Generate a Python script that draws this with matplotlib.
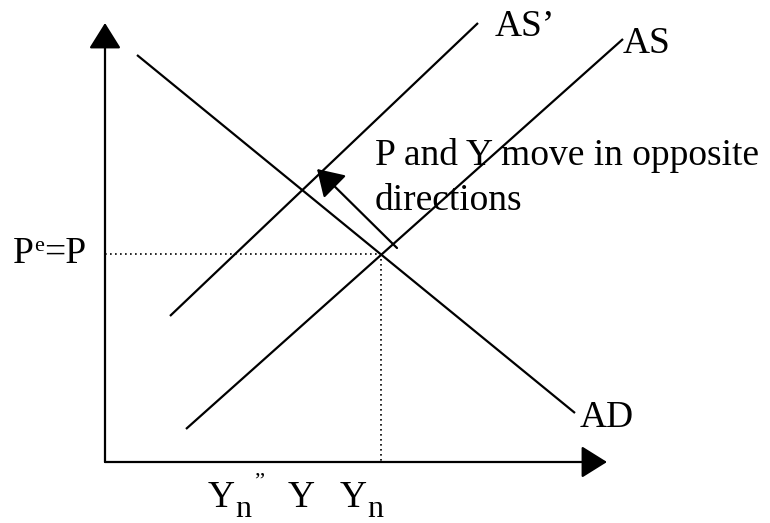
import matplotlib.pyplot as plt

plt.rcParams['font.family'] = ['Liberation Serif', 'DejaVu Serif']

# curve end points (output Y, price P), origin at the axes corner
ad_x = [32, 470]
ad_y = [407, 49]
as_x = [81, 518]
as_y = [33, 423]
as2_x = [65, 373]
as2_y = [146, 439]

# equilibrium point
y_eq = 276
p_eq = 208

# shift arrow (from, to)
shift_from = (292, 214)
shift_to = (212, 293)

x_axis_end = 502
y_axis_end = 439

fig = plt.figure(figsize=(7.7, 5.23), dpi=100)
ax = fig.add_axes([0, 0, 1, 1])
ax.set_xlim(-105, 665)
ax.set_ylim(-61, 462)
ax.axis('off')

fs = 27
lw = 1.6
head = '-|>,head_length=0.4,head_width=0.25'

# axes with arrow heads
ax.annotate('', xy=(0, y_axis_end), xytext=(0, 0),
            arrowprops=dict(arrowstyle=head, mutation_scale=40, lw=lw,
                            color='k', shrinkA=0, shrinkB=0))
ax.annotate('', xy=(x_axis_end, 0), xytext=(0, 0),
            arrowprops=dict(arrowstyle=head, mutation_scale=40, lw=lw,
                            color='k', shrinkA=0, shrinkB=0))

# curves
ax.plot(ad_x, ad_y, color='k', lw=lw, solid_capstyle='butt')
ax.plot(as_x, as_y, color='k', lw=lw, solid_capstyle='butt')
ax.plot(as2_x, as2_y, color='k', lw=lw, solid_capstyle='butt')

# dotted guides
ax.plot([0, y_eq], [p_eq, p_eq], color='k', lw=1.2, ls=(0, (1, 2)))
ax.plot([y_eq, y_eq], [p_eq, 0], color='k', lw=1.2, ls=(0, (1, 2)))

# shift arrow
ax.annotate('', xy=shift_to, xytext=shift_from,
            arrowprops=dict(arrowstyle=head, mutation_scale=40, lw=lw,
                            color='k', shrinkA=0, shrinkB=0))

# labels
ax.text(390, 426, 'AS\u2019', fontsize=fs, va='baseline', ha='left')
ax.text(518, 409, 'AS', fontsize=fs, va='baseline', ha='left')
ax.text(475, 35, 'AD', fontsize=fs, va='baseline', ha='left')
ax.text(270, 297, 'P and Y move in opposite', fontsize=fs, va='baseline', ha='left')
ax.text(270, 252, 'directions', fontsize=fs, va='baseline', ha='left')

# P^e = P
ax.text(-92, 199, 'P', fontsize=fs, va='baseline', ha='left')
ax.text(-71, 211, 'e', fontsize=16, va='baseline', ha='left')
ax.text(-61, 199, '=P', fontsize=fs, va='baseline', ha='left')

# output labels
ax.text(103, -45, 'Y', fontsize=fs, va='baseline', ha='left')
ax.text(130, -55, 'n', fontsize=23, va='baseline', ha='left')
ax.text(148, -25, '\u2019\u2019', fontsize=16, va='baseline', ha='left')
ax.text(183, -45, 'Y', fontsize=fs, va='baseline', ha='left')
ax.text(235, -45, 'Y', fontsize=fs, va='baseline', ha='left')
ax.text(262, -55, 'n', fontsize=23, va='baseline', ha='left')

fig.savefig('out.png', dpi=100)
